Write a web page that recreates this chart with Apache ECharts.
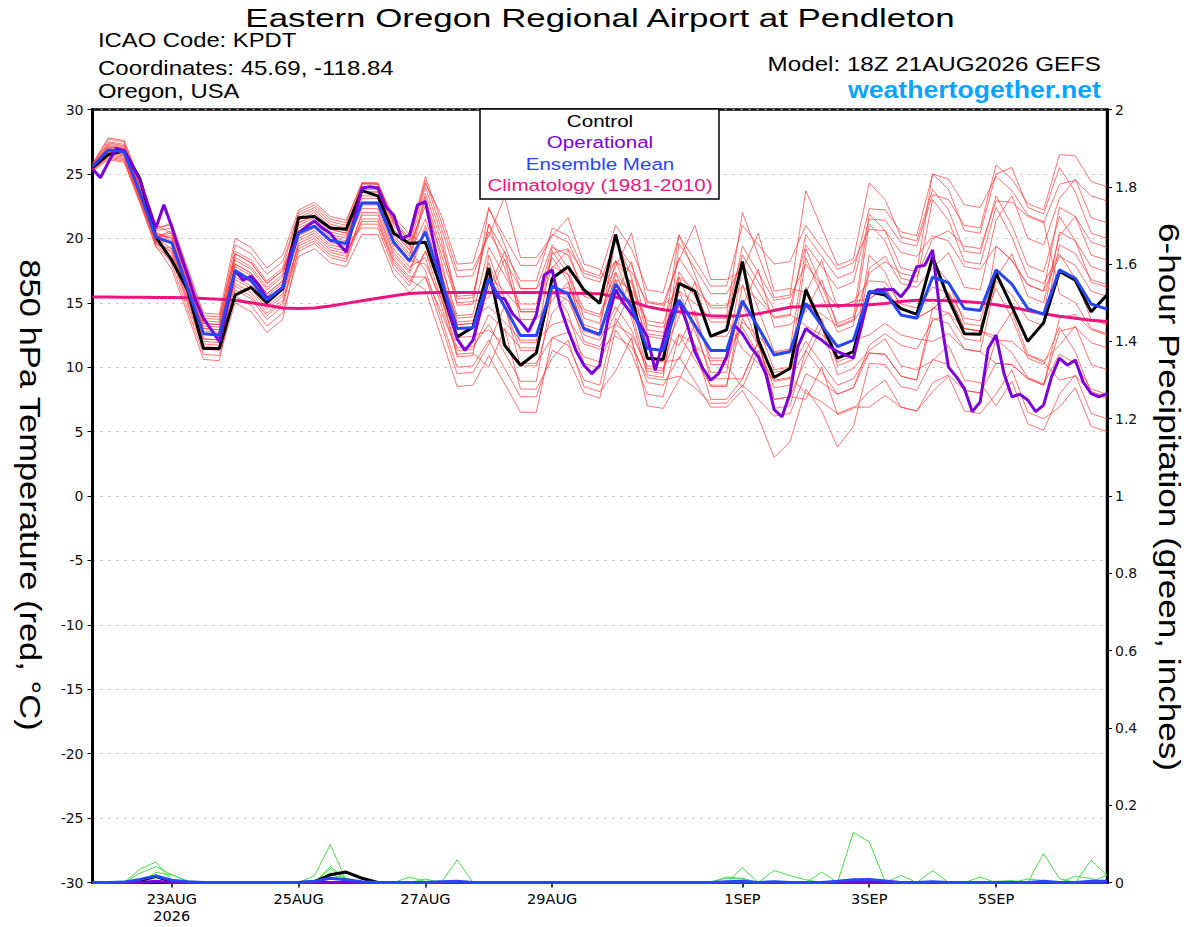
<!DOCTYPE html>
<html><head><meta charset="utf-8">
<script src="https://cdn.jsdelivr.net/npm/echarts/dist/echarts.min.js"></script>
<style>html,body{margin:0;padding:0;background:#fff}#c{width:1200px;height:927px}</style>
</head><body><div id="c"></div>
<script>
// ---- time axis: 3-hourly categories (hours since 18Z 21AUG2026) ----
const hours = [];
for (let h = 0; h <= 384; h += 3) hours.push(String(h));
const tickHours = [30, 78, 126, 174, 246, 294, 342];
const tickLabels = ['23AUG\n2026', '25AUG', '27AUG', '29AUG', '1SEP', '3SEP', '5SEP'];

// ---- 850 hPa temperature (°C), 6-hourly ----
const control = [25.5,26.5,26.8,24.6,20.1, 18.3,16.0,11.45,11.45, 15.6,16.2,15.0,16.1, 21.6,21.7,20.8,20.7, 23.7,23.3,20.4,19.6, 19.7,16.1,12.35,13.1, 17.7,11.7,10.15,11.1, 16.9,17.8,16.0,14.95, 20.3,15.5,10.7,10.6, 16.5,15.9,12.4,12.9, 18.2,12.1,9.2,9.9, 16.0,13.3,10.7,11.2, 15.85,15.6,14.55,14.1, 18.55,15.3,12.6,12.55, 17.3,14.7,12.0,13.45, 17.45,16.75,14.3,15.6];
const ensMean = [25.55,26.85,26.7,23.5,20.1, 19.65,16.1,12.6,12.5, 17.5,16.75,15.2,16.2, 20.4,20.95,19.85,19.6, 22.75,22.75,19.7,18.25, 20.5,16.75,13.0,13.05, 16.9,14.7,12.45,12.45, 16.3,15.7,13.0,12.55, 16.45,14.7,11.45,11.3, 15.2,13.25,11.3,11.3, 15.15,13.1,10.95,11.2, 14.95,13.25,11.6,12.1, 15.85,15.8,14.05,13.8, 17.0,16.55,14.55,14.4, 17.55,16.45,14.55,14.1, 17.55,16.9,14.9,14.5];
const climatology = [15.45,15.45,15.43,15.42,15.4, 15.4,15.38,15.33,15.28, 15.2,15.0,14.8,14.6, 14.55,14.6,14.75,14.95, 15.15,15.35,15.55,15.72, 15.78,15.8,15.8,15.8, 15.8,15.8,15.8,15.8, 15.78,15.75,15.72,15.7, 15.45,15.1,14.7,14.45, 14.3,14.15,14.0,13.95, 14.0,14.15,14.4,14.65, 14.72,14.76,14.78,14.8, 14.85,14.95,15.1,15.2, 15.2,15.15,15.1,15.0, 14.85,14.65,14.4,14.15, 13.95,13.8,13.65,13.55];
// operational, 3-hourly
const operational = [25.4,24.7,25.9,27.0,26.8,25.7,24.5,22.6,20.8,22.6,20.9,18.95,17.15,15.2,13.8,12.9,12.0,14.7,17.5,16.75,17.05,16.35,15.35,15.7,16.2,18.8,20.4,20.9,21.35,20.8,20.4,19.6,18.95,21.4,23.9,24.0,23.9,22.45,21.8,20.0,20.25,22.6,22.85,19.85,17.0,14.4,12.2,11.3,12.1,14.4,16.9,15.45,15.3,14.15,13.5,12.75,14.05,17.15,17.55,14.7,12.9,11.3,10.15,9.5,10.15,13.65,16.0,14.95,14.15,13.4,12.35,9.75,12.0,14.15,15.2,13.4,11.2,9.9,9.0,9.5,10.8,13.25,12.6,11.6,10.8,9.4,6.7,6.15,7.95,11.6,13.0,12.5,12.1,11.6,11.2,10.95,10.7,13.15,15.7,16.0,16.0,16.05,15.45,16.25,17.8,17.9,19.1,13.9,10.0,9.25,8.35,6.55,7.3,11.45,12.5,9.5,7.7,7.9,7.45,6.55,7.05,9.25,10.7,10.15,10.55,8.85,7.95,7.7,7.95];

// ensemble members (6-hourly)
const mem01 = [25.6,27.2,27.0,23.8,20.4, 20.0,16.5,13.0,12.9, 18.5,17.8,16.2,17.2, 21.4,22.0,20.9,20.6, 24.3,24.3,21.2,19.8, 24.3,21.8,18.0,18.1, 22.3,20.1,17.9,17.9, 20.3,19.7,17.0,16.6, 19.7,17.9,14.7,14.5, 18.5,16.6,14.6,14.6, 18.7,16.6,14.5,14.7, 19.5,17.8,16.1,16.6, 21.5,21.4,19.7,19.4, 23.4,23.0,21.0,20.8, 25.7,24.6,22.7,22.2, 26.5,26.4,24.4,24.0];
const mem02 = [25.4,26.7,26.5,23.3,19.9, 18.8,15.3,11.8,11.7, 16.3,15.5,14.0,15.0, 19.8,20.4,19.3,19.0, 21.3,21.3,18.2,16.8, 16.0,12.3,8.5,8.6, 10.9,8.7,6.5,6.5, 12.3,11.7,9.0,8.6, 13.8,12.0,8.8,8.6, 10.8,8.9,6.9,6.9, 8.2,6.1,3.0,4.2, 8.3,6.6,3.8,5.4, 10.3,10.2,8.5,8.2, 10.6,10.2,8.2,8.0, 12.2,11.1,9.2,8.7, 11.0,10.3,8.3,7.9];
const mem03 = [25.7,27.4,27.2,24.0,20.6, 20.8,17.3,13.8,13.7, 19.5,18.8,17.2,18.2, 21.8,22.4,21.3,21.0, 24.0,24.0,21.0,19.5, 22.5,18.8,15.0,15.1, 15.4,18.4,13.7,13.7, 15.2,16.6,13.0,12.6, 13.3,15.9,10.6,10.4, 10.6,13.3,9.1,9.1, 9.1,12.0,7.5,7.7, 7.5,10.0,6.3,6.8, 8.1,9.0,6.9,6.6, 8.1,9.3,6.6,6.4, 7.9,9.8,6.5,6.0, 6.9,8.4,5.4,5.0];
const mem04 = [25.3,26.4,26.2,23.0,19.6, 19.0,15.5,12.0,11.9, 17.5,16.8,15.2,16.2, 20.8,21.4,20.3,20.0, 23.6,23.6,20.5,19.1, 23.0,19.3,15.5,15.6, 21.1,18.9,16.7,16.7, 20.8,20.2,17.5,17.1, 21.0,19.2,16.0,15.8, 20.2,18.3,16.3,16.3, 21.0,19.5,18.0,18.2, 21.0,19.3,17.6,18.1, 20.7,20.6,18.9,18.6, 20.2,19.8,17.8,17.6, 19.4,18.3,16.4,15.9, 18.6,17.9,15.9,15.5];
const mem05 = [25.5,26.9,26.7,23.5,20.1, 20.2,16.7,13.2,13.1, 17.0,16.3,14.7,15.7, 19.4,20.0,18.9,18.6, 21.8,21.8,18.7,17.3, 20.7,15.8,10.8,10.9, 18.7,15.3,11.9,11.9, 19.0,17.2,13.3,12.9, 20.0,17.0,12.6,12.4, 20.3,17.2,14.0,14.0, 22.0,18.7,15.4,15.6, 23.7,20.8,17.9,18.4, 24.3,23.0,20.1,19.8, 23.8,22.2,19.0,18.8, 23.3,21.0,17.9,17.4, 21.7,19.8,16.6,16.2];
const mem06 = [25.8,27.7,27.5,24.3,20.9, 21.0,17.5,14.0,13.9, 18.8,18.1,16.5,17.5, 21.0,21.6,20.5,20.2, 22.8,22.8,19.7,18.3, 18.0,15.3,12.3,12.4, 12.9,11.7,10.3,10.3, 12.3,12.7,10.8,10.4, 13.3,12.5,10.1,9.9, 12.6,11.7,10.5,10.5, 13.5,12.4,11.1,11.3, 14.8,14.1,13.2,13.7, 17.3,18.2,17.3,17.0, 20.0,20.6,19.4,19.2, 22.9,22.8,21.7,21.2, 24.2,24.5,23.3,22.9];
const mem07 = [25.2,26.1,25.9,22.7,19.3, 18.4,14.9,11.4,11.3, 15.5,14.8,13.2,14.2, 18.6,19.2,18.1,17.8, 20.3,20.3,17.2,15.8, 17.0,13.3,9.5,9.6, 11.8,14.8,10.1,10.1, 14.2,15.6,12.0,11.6, 14.2,16.8,11.5,11.3, 13.9,16.6,12.4,12.4, 14.7,17.6,13.1,13.3, 14.3,16.8,13.1,13.6, 15.3,16.2,14.1,13.8, 14.5,15.7,13.0,12.8, 12.4,14.3,11.0,10.5, 11.7,13.2,10.2,9.8];
const mem08 = [25.6,27.1,26.9,23.7,20.3, 19.6,16.1,12.6,12.5, 18.0,17.3,15.7,16.7, 21.2,21.8,20.7,20.4, 23.3,23.3,20.2,18.8, 21.5,17.8,14.0,14.1, 19.3,17.1,14.9,14.9, 19.3,18.7,16.0,15.6, 18.3,16.5,13.3,13.1, 15.2,13.3,11.3,11.3, 13.1,11.0,8.9,9.1, 11.3,9.6,7.9,8.4, 11.1,11.0,9.3,9.0, 13.8,13.4,11.4,11.2, 16.7,15.6,13.7,13.2, 19.5,18.8,16.8,16.4];
const mem09 = [25.4,26.6,26.4,23.2,19.8, 18.6,15.1,11.6,11.5, 16.8,16.1,14.5,15.5, 20.4,21.0,19.9,19.6, 23.8,23.8,20.7,19.3, 24.0,20.3,15.3,15.4, 21.1,17.7,14.3,14.3, 18.5,16.7,12.8,12.4, 17.3,14.3,9.9,9.7, 14.8,11.7,8.5,8.5, 15.0,11.7,8.4,8.6, 16.2,13.3,10.4,10.9, 18.7,17.4,14.5,14.2, 18.2,16.6,13.4,13.2, 16.1,13.8,10.7,10.2, 13.1,11.2,8.0,7.6];
const mem10 = [25.7,27.5,27.3,24.1,20.7, 21.2,17.7,14.2,14.1, 20.0,19.3,17.7,18.7, 22.2,22.8,21.7,21.4, 24.3,24.2,21.7,20.3, 19.5,16.8,13.8,13.9, 14.7,13.5,12.1,12.1, 13.3,13.7,11.8,11.4, 12.4,11.6,9.2,9.0, 9.3,8.4,7.2,7.2, 8.6,7.5,6.2,6.4, 9.5,8.8,7.9,8.4, 11.7,12.6,11.7,11.4, 13.6,14.2,13.0,12.8, 12.1,12.0,10.9,10.4, 9.0,9.3,8.1,7.7];
const mem11 = [25.3,26.3,26.1,22.9,19.5, 19.2,15.7,12.2,12.1, 18.0,17.3,15.7,16.7, 20.2,20.8,19.7,19.4, 22.3,22.3,19.2,17.8, 18.5,14.8,11.0,11.1, 10.0,13.0,8.3,8.3, 10.7,12.1,8.5,8.1, 9.7,12.3,7.0,6.8, 9.0,11.7,7.5,7.5, 9.1,12.0,7.5,7.7, 10.6,13.1,9.4,9.9, 11.3,12.2,10.1,9.8, 10.5,11.7,9.0,8.8, 7.0,8.9,5.6,5.1, 7.9,9.4,6.4,6.0];
const mem12 = [25.5,27.0,26.8,23.6,20.2, 20.4,16.9,13.4,13.3, 19.0,18.3,16.7,17.7, 22.0,22.6,21.5,21.2, 24.3,24.3,21.2,19.8, 24.5,20.8,17.0,17.1, 20.5,18.3,16.1,16.1, 17.8,17.2,14.5,14.1, 17.4,15.6,12.4,12.2, 17.4,15.5,13.5,13.5, 19.4,17.3,15.2,15.4, 18.0,16.3,14.6,15.1, 16.7,16.6,14.9,14.6, 16.2,15.8,13.8,13.6, 17.6,16.5,14.6,14.1, 20.5,19.8,17.8,17.4];
const mem13 = [25.5,26.8,26.6,23.4,20.0, 19.2,15.7,12.2,12.1, 17.3,16.6,15.0,16.0, 20.6,21.2,20.1,19.8, 22.6,22.6,19.5,18.1, 23.2,18.3,13.3,13.4, 18.1,14.7,11.3,11.3, 16.0,14.2,10.3,9.9, 16.8,13.8,9.4,9.2, 17.0,13.9,10.7,10.7, 17.8,14.5,11.2,11.4, 19.2,16.3,13.4,13.9, 21.9,20.6,17.7,17.4, 25.0,23.8,20.6,20.4, 25.0,25.5,22.4,21.9, 25.5,23.6,20.4,20.0];
const mem14 = [25.6,27.3,27.1,23.9,20.5, 19.8,16.3,12.8,12.7, 16.5,15.8,14.2,15.2, 19.0,19.6,18.5,18.2, 21.5,21.5,18.4,17.0, 17.0,14.3,11.3,11.4, 14.1,12.9,11.5,11.5, 15.8,16.2,14.3,13.9, 16.8,16.0,13.6,13.4, 17.0,16.0,14.8,14.8, 16.3,15.2,13.9,14.1, 13.2,12.5,11.6,12.1, 12.5,13.4,12.5,12.2, 12.0,12.6,11.4,11.2, 10.3,10.2,9.1,8.6, 12.8,13.1,11.9,11.5];
const mem15 = [25.4,26.5,26.3,23.1,19.7, 18.0,14.5,11.0,10.9, 15.0,14.3,12.7,13.7, 19.2,19.8,18.7,18.4, 22.0,22.0,18.9,17.5, 21.0,17.3,13.5,13.6, 16.0,19.0,14.3,14.3, 17.7,19.1,15.5,15.1, 17.8,20.4,15.1,14.9, 18.3,21.0,16.8,16.8, 17.5,20.4,15.9,16.1, 15.8,18.3,14.6,15.1, 15.3,16.2,14.1,13.8, 14.5,15.7,13.0,12.8, 16.9,18.8,15.5,15.0, 20.2,21.7,18.7,18.3];
const mem16 = [25.5,26.9,26.7,23.5,20.1, 20.6,17.1,13.6,13.5, 18.3,17.6,16.0,17.0, 21.6,22.2,21.1,20.8, 23.6,23.6,20.5,19.1, 17.5,13.8,10.0,10.1, 12.1,9.9,7.7,7.7, 11.3,10.7,8.0,7.6, 12.9,11.1,7.9,7.7, 12.5,10.6,8.6,8.6, 13.8,11.7,9.6,9.8, 12.0,10.3,8.6,9.1, 11.1,11.0,9.3,9.0, 14.6,14.2,12.2,12.0, 19.4,18.3,16.4,15.9, 22.4,21.7,19.7,19.3];
const mem17 = [25.8,27.8,27.6,24.4,21.0, 20.4,16.9,13.4,13.3, 17.8,17.1,15.5,16.5, 20.0,20.6,19.5,19.2, 23.1,23.1,20.0,18.6, 23.5,19.8,14.8,14.9, 22.4,19.5,16.1,16.1, 19.5,17.7,13.8,13.4, 18.2,15.2,10.8,10.6, 15.9,12.8,9.6,9.6, 16.4,13.1,9.8,10.0, 18.5,15.6,12.7,13.2, 21.1,19.8,16.9,16.6, 23.0,21.4,18.2,18.0, 22.4,20.1,17.0,16.5, 18.8,16.9,13.7,13.3];
const mem18 = [25.3,26.2,26.0,22.8,19.4, 17.6,14.1,10.6,10.5, 16.0,15.3,13.7,14.7, 19.6,20.2,19.1,18.8, 21.1,21.1,18.0,16.6, 19.0,16.3,13.3,13.4, 17.1,15.9,14.5,14.5, 18.8,19.2,17.3,16.9, 18.2,17.4,15.0,14.8, 15.9,15.0,13.8,13.8, 11.4,10.3,9.0,9.2, 8.0,7.3,6.4,6.9, 6.9,7.8,6.9,6.6, 8.8,9.4,8.2,8.0, 10.3,10.2,9.1,8.6, 13.8,14.1,12.9,12.5];
const mem19 = [25.6,27.1,26.9,23.7,20.3, 20.0,16.5,13.0,12.9, 17.3,16.6,15.0,16.0, 21.2,21.8,20.7,20.4, 24.2,24.2,21.4,20.0, 24.8,21.3,17.5,17.6, 20.2,23.2,18.5,18.5, 20.2,21.6,18.0,17.6, 15.6,18.2,12.9,12.7, 11.7,14.4,10.2,10.2, 8.4,11.3,6.8,7.0, 11.3,13.8,10.1,10.6, 17.7,18.6,16.5,16.2, 17.7,18.9,16.2,16.0, 21.4,23.3,20.0,19.5, 23.1,24.6,21.6,21.2];
const mem20 = [25.4,26.7,26.5,23.3,19.9, 19.6,16.1,12.6,12.5, 18.8,18.1,16.5,17.5, 20.4,21.0,19.9,19.6, 20.8,20.8,17.7,16.3, 19.0,15.3,11.5,11.6, 13.3,11.1,8.9,8.9, 15.8,15.2,12.5,12.1, 14.7,12.9,9.7,9.5, 19.6,17.7,15.7,15.7, 18.0,15.9,13.8,14.0, 20.3,18.6,16.9,17.4, 22.3,22.2,20.5,20.2, 25.0,24.6,22.6,22.4, 24.8,23.7,21.8,21.3, 15.7,15.0,13.0,12.6];
const members = [mem01,mem02,mem03,mem04,mem05,mem06,mem07,mem08,mem09,mem10,mem11,mem12,mem13,mem14,mem15,mem16,mem17,mem18,mem19,mem20];

// ---- 6-hour precipitation (inches), 6-hourly ----
const prcp01 = [0,0,0,0.035,0.053,0.005,0,0,0,0, 0,0,0,0,0.017,0.098,0.005,0,0,0, 0,0,0,0.059,0,0,0,0,0,0, 0,0,0,0,0,0,0,0,0,0, 0.014,0.011,0,0,0,0,0,0,0.13,0.105, 0.003,0,0,0,0,0,0,0,0,0, 0.075,0.01,0,0,0];
const prcp02 = [0,0,0,0.024,0.041,0.02,0.004,0,0,0, 0,0,0,0,0,0.041,0.01,0,0,0, 0.014,0.003,0.002,0,0,0,0,0,0,0, 0,0,0,0,0,0,0,0,0,0, 0,0.038,0,0.031,0.018,0.007,0,0,0,0, 0,0,0,0,0,0,0,0,0,0, 0,0,0,0.058,0.018];
const prcp03 = [0,0,0,0,0.026,0.02,0.003,0,0,0, 0,0,0,0,0,0.035,0.008,0,0,0, 0,0.009,0,0,0,0,0,0,0,0, 0,0,0,0,0,0,0,0,0,0, 0,0,0,0,0,0,0.027,0,0,0, 0,0.018,0,0.031,0,0,0.014,0,0,0, 0,0,0.016,0.01,0];
const prcp04 = [0,0,0,0,0.012,0.004,0,0,0,0, 0,0,0,0,0.005,0.02,0.012,0,0,0, 0,0,0,0,0,0,0,0,0,0, 0,0,0,0,0,0,0,0,0,0.002, 0.011,0.009,0,0,0,0,0,0,0,0, 0,0,0,0,0,0,0,0,0,0.009, 0.005,0,0,0,0.02];
const prcp05 = [0,0,0,0,0.02,0,0,0,0,0, 0,0,0,0,0,0.025,0,0,0,0, 0,0,0.004,0,0,0,0,0,0,0, 0,0,0,0,0,0,0,0,0,0, 0,0,0.003,0,0,0,0,0.005,0,0.01, 0,0,0,0,0,0,0,0.003,0.005,0, 0,0,0,0,0];
const prcpMembers = [prcp01,prcp02,prcp03,prcp04,prcp05];
const prcpControl = [0,0,0,0.005,0.016,0.002,0,0,0,0, 0,0,0,0,0.002,0.02,0.027,0.011,0,0, 0,0,0,0,0,0,0,0,0,0, 0,0,0,0,0,0,0,0,0,0, 0,0,0,0,0,0,0,0,0,0, 0,0,0,0,0,0,0,0,0,0, 0,0,0,0,0];
const prcpMean = [0,0,0.001,0.008,0.017,0.006,0.002,0,0,0, 0,0,0,0,0.003,0.011,0.007,0.002,0,0, 0,0,0.002,0.003,0,0,0,0,0,0, 0,0,0,0,0,0,0,0,0,0, 0.002,0.003,0,0.002,0,0,0,0.003,0.007,0.008, 0.004,0,0,0.002,0,0,0,0,0,0, 0.003,0,0,0.003,0.003];
const prcpOper = [0,0,0,0,0.003,0,0,0,0,0, 0,0,0,0,0,0,0,0,0,0, 0,0,0,0,0,0,0,0,0,0, 0,0,0,0,0,0,0,0,0,0, 0,0,0,0,0,0,0,0,0,0, 0,0,0,0,0,0,0,0,0,0, 0,0,0,0,0];

// ---- axis tick values ----
const tempTicks = {min: -30, max: 30, interval: 5};
const prcpTicks = {min: 0, max: 2, interval: 0.2};

const FONT = "'Liberation Sans', Arial, Helvetica, sans-serif";
const TICKFONT = "'DejaVu Sans', 'Liberation Sans', sans-serif";
const C_CTRL = '#000000', C_OPER = '#7a00dc', C_MEAN = '#2746f5', C_CLIM = '#ee1480';
const six = arr => arr.map((v, i) => [2 * i, v]);
const isTick = (idx, val) => tickHours.indexOf(+val) >= 0;

const series = [];
members.forEach(m => series.push({type: 'line', data: six(m), yAxisIndex: 0, symbol: 'none', silent: true, z: 2,
  lineStyle: {width: 1, color: 'rgba(255,50,50,0.68)'}}));
prcpMembers.forEach(m => series.push({type: 'line', data: six(m), yAxisIndex: 1, symbol: 'none', silent: true, z: 2,
  lineStyle: {width: 1, color: '#45e045'}}));
series.push({type: 'line', data: six(climatology), yAxisIndex: 0, symbol: 'none', z: 3, lineStyle: {width: 3, color: C_CLIM}});
series.push({type: 'line', data: six(control), yAxisIndex: 0, symbol: 'none', z: 4, lineStyle: {width: 3, color: C_CTRL}});
series.push({type: 'line', data: operational, yAxisIndex: 0, symbol: 'none', z: 5, lineStyle: {width: 3, color: C_OPER}});
series.push({type: 'line', data: six(ensMean), yAxisIndex: 0, symbol: 'none', z: 6, lineStyle: {width: 3, color: C_MEAN}});
series.push({type: 'line', data: six(prcpControl), yAxisIndex: 1, symbol: 'none', z: 4, lineStyle: {width: 3, color: C_CTRL}});
series.push({type: 'line', data: six(prcpOper), yAxisIndex: 1, symbol: 'none', z: 5, lineStyle: {width: 3, color: C_OPER}});
series.push({type: 'line', data: six(prcpMean), yAxisIndex: 1, symbol: 'none', z: 6, lineStyle: {width: 3, color: C_MEAN}});

const txt = (x, y, text, size, fill, align, sx, weight, rot) => ({type: 'text', x, y, z: 200, scaleX: sx || 1, rotation: rot || 0,
  style: {text, fontSize: size, fontFamily: FONT, fill, align, verticalAlign: 'middle', fontWeight: weight || 'normal'}});

const chart = echarts.init(document.getElementById('c'), null, {renderer: 'svg'});
chart.setOption({
  animation: false,
  backgroundColor: '#fff',
  grid: {left: 92.5, right: 93, top: 109.5, bottom: 44.5, show: true, borderColor: '#000', borderWidth: 2.5, backgroundColor: 'transparent'},
  xAxis: {
    type: 'category', data: hours, boundaryGap: false,
    axisLine: {onZero: false, lineStyle: {color: '#000', width: 3}},
    axisTick: {show: true, interval: isTick, length: 5, lineStyle: {color: '#000', width: 1.5}},
    axisLabel: {interval: isTick, color: '#000', fontSize: 14.5, fontFamily: TICKFONT, margin: 8, lineHeight: 17,
      formatter: v => { const k = tickHours.indexOf(+v); return k >= 0 ? tickLabels[k] : ''; }},
    splitLine: {show: false}
  },
  yAxis: [
    {type: 'value', min: tempTicks.min, max: tempTicks.max, interval: tempTicks.interval, position: 'left',
      axisLine: {show: true, onZero: false, lineStyle: {color: '#000', width: 3}},
      axisTick: {show: true, length: 5, lineStyle: {color: '#000', width: 1}},
      axisLabel: {color: '#111', fontSize: 14, fontFamily: TICKFONT, margin: 9},
      splitLine: {show: true, lineStyle: {color: '#b4b4b4', width: 1.2, type: [2, 6]}}},
    {type: 'value', min: prcpTicks.min, max: prcpTicks.max, interval: prcpTicks.interval, position: 'right',
      axisLine: {show: true, onZero: false, lineStyle: {color: '#000', width: 3}},
      axisTick: {show: true, length: 5, lineStyle: {color: '#000', width: 1}},
      axisLabel: {color: '#111', fontSize: 14, fontFamily: TICKFONT, margin: 8, formatter: v => String(Math.round(v * 10) / 10)},
      splitLine: {show: false}}
  ],
  graphic: [
    txt(600, 18.5, 'Eastern Oregon Regional Airport at Pendleton', 25, '#000', 'center', 1.395),
    txt(98, 40, 'ICAO Code: KPDT', 20, '#000', 'left', 1.19),
    txt(98, 68, 'Coordinates: 45.69, -118.84', 20, '#000', 'left', 1.2),
    txt(98, 91, 'Oregon, USA', 20, '#000', 'left', 1.19),
    txt(1101, 64, 'Model: 18Z 21AUG2026 GEFS', 20, '#000', 'right', 1.21),
    txt(1101, 89, 'weathertogether.net', 24, '#0aa4ff', 'right', 1.11, 'bold'),
    txt(30, 495, '850 hPa Temperature (red, \u00B0C)', 30, '#000', 'center', 1.15, 'normal', -Math.PI / 2),
    txt(1170, 497, '6-hour Precipitation (green, inches)', 30, '#000', 'center', 1.17, 'normal', -Math.PI / 2),
    {type: 'rect', z: 150, shape: {x: 480, y: 109, width: 239, height: 90}, style: {fill: '#fff', stroke: '#000', lineWidth: 1.5}},
    txt(600, 121, 'Control', 17, C_CTRL, 'center', 1.21),
    txt(600, 142, 'Operational', 17, C_OPER, 'center', 1.21),
    txt(600, 164, 'Ensemble Mean', 17, C_MEAN, 'center', 1.21),
    txt(600, 185.5, 'Climatology (1981-2010)', 17, C_CLIM, 'center', 1.21)
  ],
  series
});
</script>
</body></html>
